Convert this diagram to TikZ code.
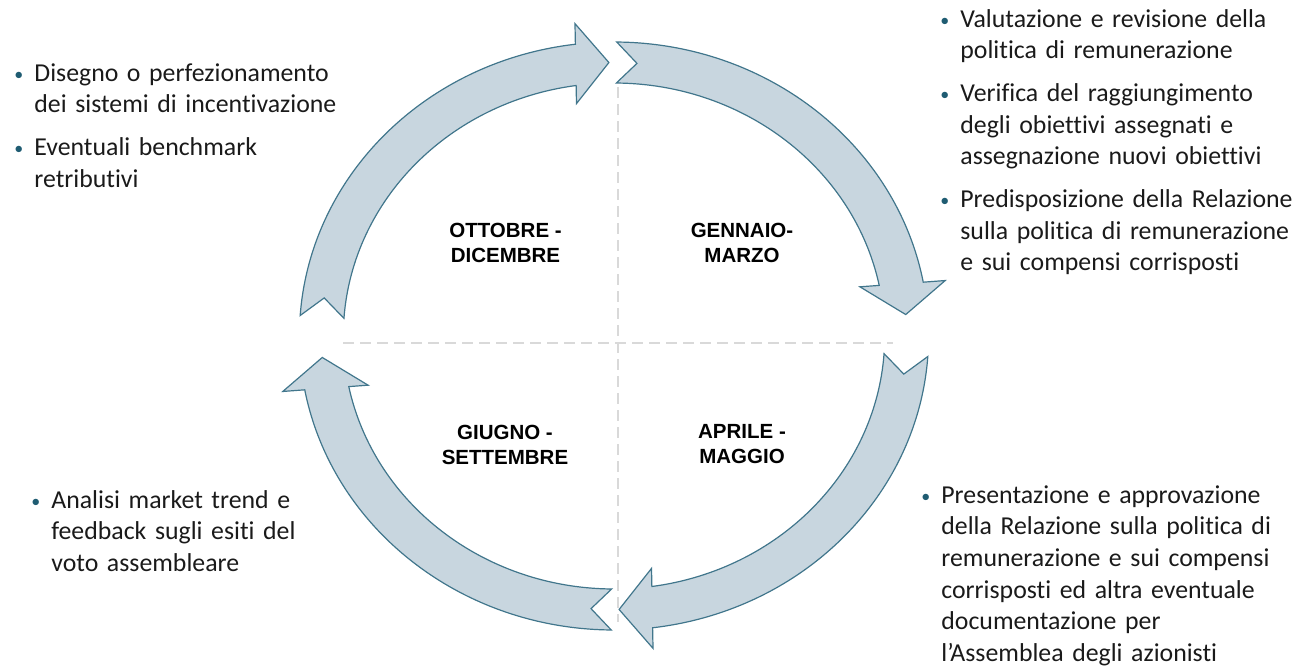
\documentclass[tikz,border=0pt]{standalone}
\usepackage{fontspec}
\setmainfont{Carlito}[Ligatures=NoCommon]
\newfontfamily\arialfont{Liberation Sans}

\definecolor{frecciafill}{HTML}{C8D6DF}
\definecolor{frecciabordo}{HTML}{41768C}
\definecolor{puntino}{HTML}{1F5C72}
\definecolor{testo}{HTML}{1A1A1A}
\definecolor{tratteggio}{HTML}{D9D9D9}

\newcommand{\voce}[1]{\noindent\hangindent=11pt\hangafter=1\makebox[11pt][l]{\hspace{1pt}\textcolor{puntino}{\raisebox{0.5pt}{\fontsize{9}{9}\selectfont\textbullet}}}#1\par}
\newcommand{\stacco}{\par\vspace{5.5pt}}

\begin{document}
\begin{tikzpicture}[x=0.5pt,y=0.5pt]
	\tikzstyle{freccia}=[fill=frecciafill,draw=frecciabordo,line width=0.6pt,line join=miter]
	\tikzstyle{periodo}=[font=\arialfont\bfseries\fontsize{10.25}{12.5}\selectfont,align=center,text=black]
	\tikzstyle{nota}=[font=\fontsize{12.9}{15.85}\selectfont,text width=200pt,inner sep=0pt,anchor=base west,text=testo]
	\tikzstyle{griglia}=[draw=tratteggio,line width=1.25pt,dash pattern=on 5.5pt off 3pt]
	\useasboundingbox (0,0) rectangle (1307,666);
	\coordinate (centro) at (614,330);
	\coordinate (alto) at (618,579);
	\coordinate (basso) at (618,44);
	\coordinate (sinistra) at (343,323);
	\coordinate (destra) at (893,323);
	\draw[griglia] (alto) -- (basso);
	\draw[griglia] (sinistra) -- (destra);
	\foreach \rot in {0,-86.5,-180,-266.5} {
		\begin{scope}[shift={(centro)},xscale=1.07,rotate=\rot]
			\draw[freccia] (176:294) arc[start angle=176,end angle=97.05,radius=294]
				-- (96.66:314.5) -- (91:273.5) -- (98.58:235.05)
				-- (98.04:253) arc[start angle=98.04,end angle=176,radius=253]
				-- (172:273.5) -- cycle;
		\end{scope}
	}
	\node[periodo] (ott) at (505.5,423.5) {OTTOBRE -\\DICEMBRE};
	\node[periodo] (gen) at (742,423.5) {GENNAIO-\\MARZO};
	\node[periodo] (giu) at (505,221.5) {GIUGNO -\\SETTEMBRE};
	\node[periodo] (apr) at (742,221.5) {APRILE -\\MAGGIO};
	\node[nota] (nota-ott) at (12,585) {\voce{Disegno o perfezionamento\newline dei sistemi di incentivazione}\stacco
		\voce{Eventuali benchmark\newline retributivi}};
	\node[nota] (nota-gen) at (938,639) {\voce{Valutazione e revisione della\newline politica di remunerazione}\stacco
		\voce{Verifica del raggiungimento\newline degli obiettivi assegnati e\newline assegnazione nuovi obiettivi}\stacco
		\voce{Predisposizione della Relazione\newline sulla politica di remunerazione\newline e sui compensi corrisposti}};
	\node[nota] (nota-giu) at (29,158) {\voce{Analisi market trend e\newline feedback sugli esiti del\newline voto assembleare}};
	\node[nota] (nota-apr) at (919,163) {\voce{Presentazione e approvazione\newline della Relazione sulla politica di\newline remunerazione e sui compensi\newline corrisposti ed altra eventuale\newline documentazione per\newline l’Assemblea degli azionisti}};
\end{tikzpicture}
\end{document}
